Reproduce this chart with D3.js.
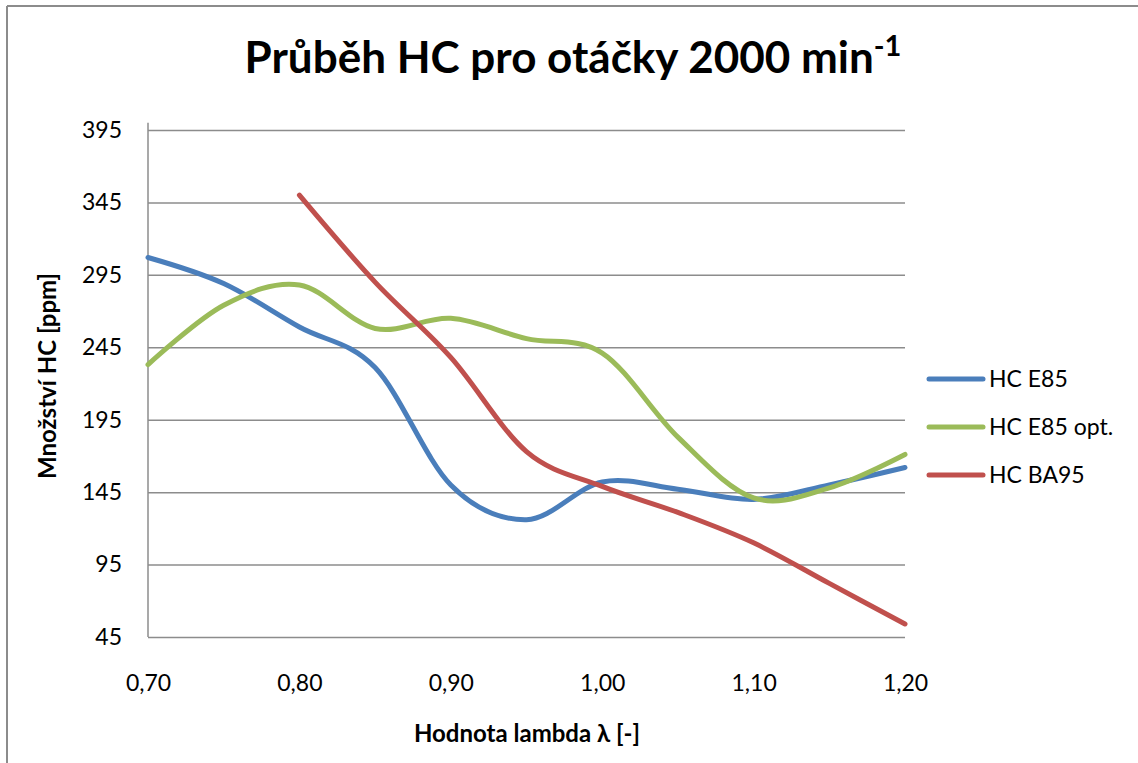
<!DOCTYPE html>
<html><head><meta charset="utf-8">
<script src="https://cdn.jsdelivr.net/npm/d3@7"></script>
<style>
body{margin:0;background:#fff}
svg text{font-family:Lato,"Open Sans",sans-serif;fill:#000}
</style></head><body>
<svg id="c" width="1138" height="763"></svg>
<script>
const lambda   = [0.70,0.75,0.80,0.85,0.90,0.95,1.00,1.05,1.10,1.15,1.20];
const hcE85    = [307,289,259,231,150,126,152,147,140,150,162];
const hcE85opt = [233,274,288,258,265,251,241,183,141,148,171];
const hcBA95   = [null,null,350,290,238,173,149,131,110,82,54];
const seriesNames = ["HC E85","HC E85 opt.","HC BA95"];
const seriesColors = ["#4a7ebb","#9bbb59","#c0504d"];
const yTicks = [45,95,145,195,245,295,345,395];
const xTicks = [0.70,0.80,0.90,1.00,1.10,1.20];

const svg = d3.select("#c");
const L=148, R=905, B=637;
const x = d3.scaleLinear().domain([0.70,1.20]).range([L,R]);
const pxPerUnit = 507/350;
const y = d3.scaleLinear().domain([45,400]).range([B, B-355*pxPerUnit]);

// outer border (top & left)
svg.append("line").attr("x1",7).attr("x2",1138).attr("y1",6).attr("y2",6).attr("stroke","#8c8c8c").attr("stroke-width",2);
svg.append("line").attr("x1",7).attr("x2",7).attr("y1",6).attr("y2",763).attr("stroke","#8c8c8c").attr("stroke-width",2);

// y axis with gridlines
const gy = svg.append("g").attr("transform",`translate(${L},0)`)
  .call(d3.axisLeft(y).tickValues(yTicks).tickSize(-(R-L)).tickPadding(26).tickFormat(d3.format("d")));
gy.select(".domain").remove();
gy.selectAll(".tick line").attr("stroke","#8c8c8c").attr("stroke-width",1.5);
gy.selectAll(".tick text").attr("font-size",23).attr("font-family","Lato");
svg.append("line").attr("x1",L).attr("x2",L).attr("y1",y(400)).attr("y2",B).attr("stroke","#8c8c8c").attr("stroke-width",1.5);

// x axis labels
const gx = svg.append("g").attr("transform",`translate(0,${B})`)
  .call(d3.axisBottom(x).tickValues(xTicks).tickSize(0).tickPadding(38).tickFormat(d=>d3.format(".2f")(d).replace(".",",")));
gx.select(".domain").remove();
gx.selectAll(".tick text").attr("font-size",23).attr("font-family","Lato");

// series
const data = [hcE85,hcE85opt,hcBA95];
const line = d3.line().defined(d=>d[1]!=null).x(d=>x(d[0])).y(d=>y(d[1])).curve(d3.curveCardinal.tension(0));
data.forEach((s,i)=>{
  svg.append("path").datum(lambda.map((l,j)=>[l,s[j]]))
    .attr("d",line).attr("fill","none").attr("stroke",seriesColors[i])
    .attr("stroke-width",5).attr("stroke-linecap","round").attr("stroke-linejoin","round");
});

// legend
seriesNames.forEach((n,i)=>{
  const ly = 379 + i*48;
  svg.append("line").attr("x1",929).attr("x2",983).attr("y1",ly).attr("y2",ly)
    .attr("stroke",seriesColors[i]).attr("stroke-width",5).attr("stroke-linecap","round");
  svg.append("text").attr("x",989).attr("y",ly).attr("dy","0.35em").attr("font-size",23).text(n);
});

// title
const t = svg.append("text").attr("x",573).attr("y",73).attr("text-anchor","middle")
  .attr("font-size",44).attr("font-weight","bold");
t.append("tspan").text("Průběh HC pro otáčky 2000 min");
t.append("tspan").attr("font-size",29).attr("dy",-17).text("-1");

// axis titles
svg.append("text").attr("x",527).attr("y",742).attr("text-anchor","middle")
  .attr("font-size",24).attr("font-weight","bold").text("Hodnota lambda λ [-]");
svg.append("text").attr("transform","translate(56,376) rotate(-90)").attr("text-anchor","middle")
  .attr("font-size",24).attr("font-weight","bold").text("Množství HC [ppm]");
</script>
</body></html>
